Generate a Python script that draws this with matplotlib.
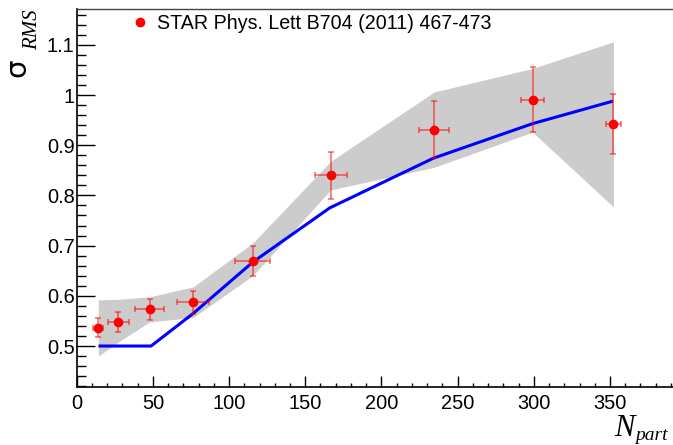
import matplotlib
matplotlib.use('Agg')
import matplotlib.pyplot as plt
from matplotlib.ticker import MultipleLocator, FuncFormatter
from matplotlib.lines import Line2D

# ---- data ----
data_npart = [14.0, 27.3, 47.9, 76.5, 115.5, 166.7, 234.6, 299.2, 352.3]
data_sigma = [0.536, 0.548, 0.573, 0.587, 0.670, 0.840, 0.931, 0.991, 0.942]
data_yerr = [0.019, 0.020, 0.021, 0.023, 0.030, 0.047, 0.057, 0.065, 0.060]
data_xerr = [3.4, 6.8, 9.5, 10.6, 11.4, 10.6, 9.7, 7.7, 5.2]

model_npart = [15.3, 48.8, 76.5, 115.5, 166.0, 234.0, 299.2, 351.0]
model_sigma = [0.500, 0.500, 0.565, 0.667, 0.775, 0.874, 0.943, 0.987]

band_npart = [14.2, 27.3, 47.9, 76.5, 115.5, 166.7, 234.6, 299.2, 352.3]
band_upper = [0.592, 0.593, 0.598, 0.618, 0.705, 0.868, 1.006, 1.053, 1.106]
band_lower = [0.480, 0.508, 0.548, 0.557, 0.640, 0.811, 0.856, 0.926, 0.777]

legend_label = "STAR Phys. Lett B704 (2011) 467-473"

plt.rcParams['font.family'] = ['Liberation Sans', 'DejaVu Sans']

W, H = 673, 445
XMAX = 392.0
px_per_unit = 1.5237
fig = plt.figure(figsize=(W / 100, H / 100), dpi=100)
ax = fig.add_axes([76.7 / W, 1 - 386.7 / H, XMAX * px_per_unit / W, 377.2 / H])

ax.fill_between(band_npart, band_lower, band_upper, color='#cccccc', lw=0, zorder=1)
ax.plot(model_npart, model_sigma, color='#0000ff', lw=2.2, zorder=2)
ax.errorbar(data_npart, data_sigma, xerr=data_xerr, yerr=data_yerr, fmt='none',
            ecolor=(1, 0, 0, 0.6), elinewidth=1.1, capsize=2, capthick=1.1, zorder=3)
ax.plot(data_npart, data_sigma, 'o', color='#ff0000', ms=6, mec='#ff0000', zorder=4)

ax.set_xlim(0, XMAX)
ax.set_ylim(0.419, 1.1703)

ax.xaxis.set_major_locator(MultipleLocator(50))
ax.xaxis.set_minor_locator(MultipleLocator(10))
ax.yaxis.set_major_locator(MultipleLocator(0.1))
ax.yaxis.set_minor_locator(MultipleLocator(0.02))
ax.xaxis.set_major_formatter(FuncFormatter(lambda v, p: f"{round(v, 3):g}"))
ax.yaxis.set_major_formatter(FuncFormatter(lambda v, p: f"{round(v, 3):g}"))

ax.tick_params(axis='x', which='major', direction='in', length=7.7, width=1.0, pad=5, labelsize=14.4)
ax.tick_params(axis='x', which='minor', direction='in', length=3.1, width=1.0)
ax.tick_params(axis='y', which='major', direction='in', length=13.2, width=1.0, pad=1.5, labelsize=14.4)
ax.tick_params(axis='y', which='minor', direction='in', length=6.7, width=1.0)

ax.spines['right'].set_visible(False)
ax.spines['top'].set_color('#444444')
ax.spines['top'].set_linewidth(1.0)
for s in ('left', 'bottom'):
    ax.spines[s].set_color('black')
    ax.spines[s].set_linewidth(1.2)

handle = Line2D([], [], marker='o', color='#ff0000', ls='none', ms=6)
ax.legend([handle], [legend_label], loc='upper left',
          bbox_to_anchor=(130 / W, 1 - 14 / H), bbox_transform=fig.transFigure,
          frameon=False, fontsize=14.1, handlelength=1.0, handletextpad=0.4,
          borderpad=0, borderaxespad=0)

# y-axis title (rotated, ROOT style)
fig.text(25 / W, 1 - 77 / H, 'σ', rotation=90, rotation_mode='anchor', ha='left',
         va='baseline', fontsize=21, family='DejaVu Sans')
fig.text(37 / W, 1 - 50 / H, 'RMS', rotation=90, rotation_mode='anchor', ha='left',
         va='baseline', fontsize=15, family='Liberation Serif', style='italic')

# x-axis title
fig.text(614 / W, 1 - 436 / H, 'N', ha='left', va='baseline', fontsize=22,
         family='Liberation Serif', style='italic')
fig.text(635 / W, 1 - 439.5 / H, 'part', ha='left', va='baseline', fontsize=14,
         family='Liberation Serif', style='italic')

fig.savefig('out.png', dpi=100)
